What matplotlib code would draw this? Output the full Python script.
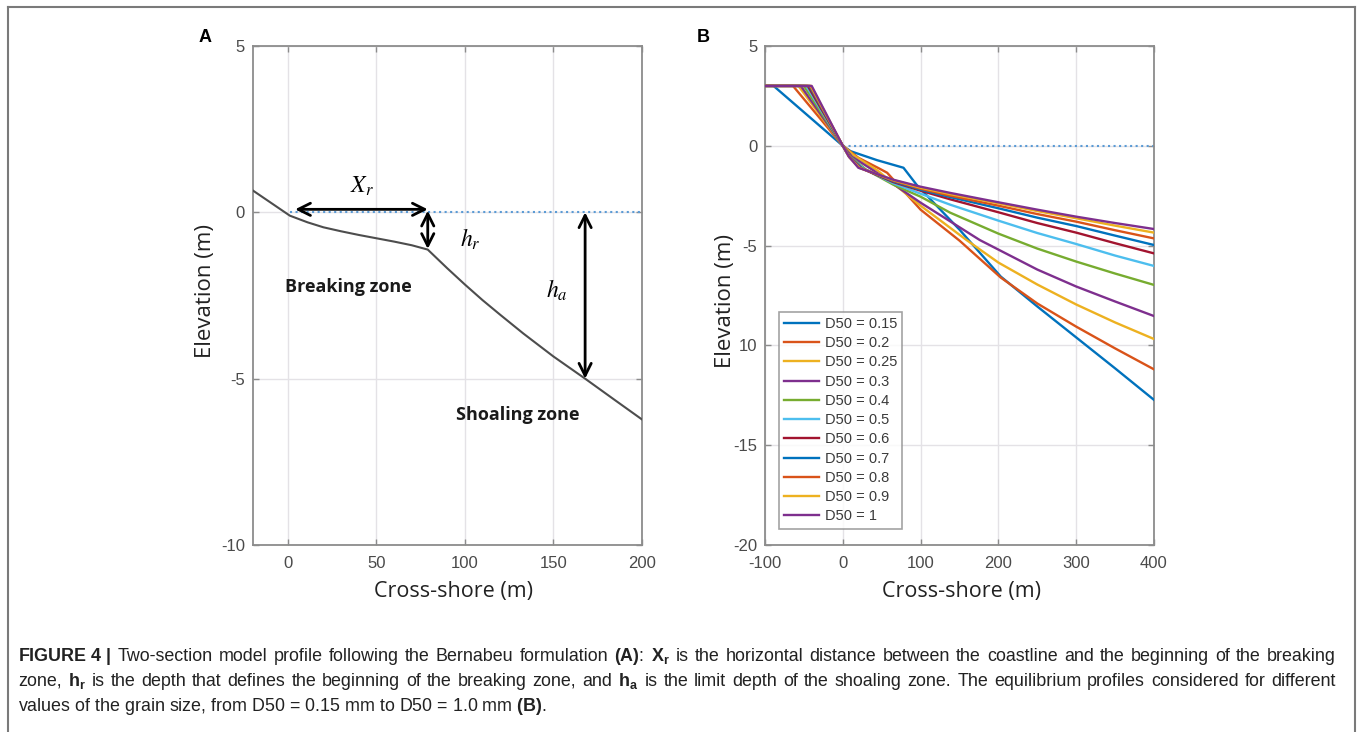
import matplotlib.pyplot as plt
from matplotlib.lines import Line2D

plt.rcParams['axes.unicode_minus'] = False
plt.rcParams['mathtext.fontset'] = 'custom'
plt.rcParams['mathtext.rm'] = 'Liberation Sans'
plt.rcParams['mathtext.bf'] = 'Liberation Sans:bold'
plt.rcParams['mathtext.it'] = 'Liberation Sans:italic'

W, H = 1358, 732

# Panel A: two-section profile (Bernabeu)
a_x = [-20, 1, 5, 11, 20, 30, 40, 50, 60, 70, 79, 90, 100, 110, 120, 133, 150, 168, 185, 200]
a_y = [0.66, -0.1, -0.18, -0.3, -0.45, -0.57, -0.68, -0.78, -0.88, -0.99, -1.12,
       -1.68, -2.17, -2.64, -3.08, -3.64, -4.33, -5.0, -5.65, -6.22]
xr_end = 79      # beginning of breaking zone
hr_depth = -1.1  # depth at breaking point
ha_x = 168       # limit of shoaling zone
ha_depth = -5.0

# Panel B: equilibrium profiles for each D50
d50_labels = ['0.15', '0.2', '0.25', '0.3', '0.4', '0.5', '0.6', '0.7', '0.8', '0.9', '1']
b_x = [
    [-100, -89, 0, 10, 44, 78, 95, 150, 203, 250, 300, 350, 400],
    [-100, -64, 0, 20, 45, 57, 100, 150, 203, 250, 300, 350, 400],
    [-100, -57, 0, 15, 45, 100, 159, 200, 250, 300, 350, 400],
    [-100, -54, 0, 12, 38, 100, 176, 200, 250, 300, 350, 400],
    [-100, -50, 0, 10, 30, 65, 100, 138, 200, 250, 300, 350, 400],
    [-100, -47, 0, 9, 27, 65, 100, 138, 200, 250, 300, 350, 400],
    [-100, -45, 0, 9, 25, 65, 100, 138, 200, 250, 300, 350, 400],
    [-100, -43, 0, 8, 23, 65, 100, 138, 200, 250, 300, 350, 400],
    [-100, -42, 0, 8, 22, 65, 100, 138, 200, 250, 300, 350, 400],
    [-100, -41, 0, 8, 21, 65, 100, 138, 200, 250, 300, 350, 400],
    [-100, -40, 0, 8, 20, 65, 100, 138, 200, 250, 300, 350, 400],
]
b_y = [
    [3, 3, 0, -0.27, -0.72, -1.1, -1.96, -4.2, -6.55, -8.05, -9.6, -11.15, -12.73],
    [3, 3, 0, -0.6, -1.1, -1.35, -3.2, -4.75, -6.6, -7.9, -9.06, -10.15, -11.2],
    [3, 3, 0, -0.5, -1.25, -3.0, -4.72, -5.85, -6.95, -7.95, -8.85, -9.68],
    [3, 3, 0, -0.55, -1.2, -2.85, -4.72, -5.2, -6.2, -7.05, -7.8, -8.53],
    [3, 3, 0, -0.55, -1.2, -1.95, -2.55, -3.35, -4.4, -5.15, -5.8, -6.4, -6.97],
    [3, 3, 0, -0.55, -1.15, -1.88, -2.4, -2.95, -3.75, -4.37, -4.92, -5.5, -6.02],
    [3, 3, 0, -0.55, -1.15, -1.82, -2.25, -2.68, -3.33, -3.87, -4.35, -4.88, -5.39],
    [3, 3, 0, -0.55, -1.1, -1.78, -2.2, -2.57, -3.13, -3.6, -4.02, -4.5, -4.97],
    [3, 3, 0, -0.55, -1.1, -1.75, -2.15, -2.5, -3.0, -3.42, -3.8, -4.23, -4.64],
    [3, 3, 0, -0.55, -1.1, -1.72, -2.1, -2.42, -2.88, -3.27, -3.63, -4.0, -4.35],
    [3, 3, 0, -0.55, -1.1, -1.7, -2.05, -2.36, -2.83, -3.2, -3.55, -3.87, -4.17],
]
matlab_colors = ['#0072BD', '#D95319', '#EDB120', '#7E2F8E', '#77AC30', '#4DBEEE', '#A2142F']

a_xticks = [0, 50, 100, 150, 200]
a_yticks = [-10, -5, 0, 5]
b_xticks = [-100, 0, 100, 200, 300, 400]
b_yticks = [-20, -15, -10, -5, 0, 5]
b_yticklabels = ['-20', '-15', '10', '-5', '0', '5']

tick_col = '#4a4a4a'
grid_col = '#e4e2e6'
spine_col = '#8c8c8c'
label_font = 'Open Sans'


def style_axes(ax):
    ax.grid(True, color=grid_col, lw=1.0)
    ax.set_axisbelow(True)
    for s in ax.spines.values():
        s.set_color(spine_col)
        s.set_linewidth(1.3)
    ax.tick_params(direction='in', length=4, width=1, color=spine_col,
                   labelcolor=tick_col, labelsize=12, top=True, right=True)
    ax.tick_params(axis='x', pad=8)
    ax.tick_params(axis='y', pad=5.5)
    for lab in ax.get_xticklabels() + ax.get_yticklabels():
        lab.set_fontfamily('Liberation Sans')


fig = plt.figure(figsize=(W / 100, H / 100), dpi=100)

# ---- Panel A ----
ax1 = fig.add_axes([252.7 / W, 1 - 545 / H, 389 / W, 499 / H])
ax1.plot([1, 200], [0, 0], ls=':', color='#5b9bd5', lw=1.5, zorder=2)
ax1.plot(a_x, a_y, color='#4d4d4d', lw=1.5, zorder=3)
ax1.set_xlim(-20, 200)
ax1.set_ylim(-10, 5)
ax1.set_xticks(a_xticks)
ax1.set_yticks(a_yticks)
style_axes(ax1)

arrow_kw = dict(arrowstyle='<->', color='black', lw=2, mutation_scale=22, shrinkA=0, shrinkB=0)
ax1.annotate('', xy=(4, 0.09), xytext=(xr_end, 0.09), arrowprops=arrow_kw)
ax1.annotate('', xy=(xr_end, 0.05), xytext=(xr_end, hr_depth), arrowprops=arrow_kw)
ax1.annotate('', xy=(ha_x, 0.0), xytext=(ha_x, ha_depth), arrowprops=arrow_kw)
ax1.text(42, 0.8, r'$X_r$', fontsize=17, ha='center', va='center', math_fontfamily='stix')
ax1.text(103, -0.8, r'$h_r$', fontsize=17, ha='center', va='center', math_fontfamily='stix')
ax1.text(152, -2.35, r'$h_a$', fontsize=17, ha='center', va='center', math_fontfamily='stix')
ax1.text(34, -2.24, 'Breaking zone', fontsize=13, fontweight='bold', family=label_font,
         ha='center', va='center', color='#1a1a1a')
ax1.text(130, -6.1, 'Shoaling zone', fontsize=13, fontweight='bold', family=label_font,
         ha='center', va='center', color='#1a1a1a')

# ---- Panel B ----
ax2 = fig.add_axes([765 / W, 1 - 545 / H, 389 / W, 499 / H])
ax2.plot([0, 400], [0, 0], ls=':', color='#5b9bd5', lw=1.5, zorder=2)
for i, lab in enumerate(d50_labels):
    ax2.plot(b_x[i], b_y[i], color=matlab_colors[i % len(matlab_colors)], lw=1.7,
             label='D50 = ' + lab, zorder=3)
ax2.set_xlim(-100, 400)
ax2.set_ylim(-20, 5)
ax2.set_xticks(b_xticks)
ax2.set_yticks(b_yticks)
ax2.set_yticklabels(b_yticklabels)
style_axes(ax2)
leg = ax2.legend(loc='lower left', bbox_to_anchor=(0.035, 0.033),
                 prop={'family': 'Liberation Sans', 'size': 10.5}, frameon=True, fancybox=False,
                 edgecolor='#8c8c8c', labelspacing=0.36, handlelength=2.4, handletextpad=0.4,
                 borderpad=0.35, borderaxespad=0)
leg.get_frame().set_linewidth(1.2)
for t in leg.get_texts():
    t.set_color('#3a3a3a')

# axis labels placed like the reference
for xc in (453.5, 961):
    fig.text(xc / W, 1 - 591 / H, 'Cross-shore (m)', fontsize=15.5, family=label_font,
             color='#222222', ha='center', va='center')
for xc, yc in ((205, 291), (726, 301)):
    fig.text(xc / W, 1 - yc / H, 'Elevation (m)', fontsize=16, family=label_font,
             color='#222222', ha='center', va='center', rotation=90)

# panel letters
fig.text(205 / W, 1 - 38 / H, 'A', fontsize=13, fontweight='bold', family='Liberation Sans',
         ha='center', va='center')
fig.text(703 / W, 1 - 38 / H, 'B', fontsize=13, fontweight='bold', family='Liberation Sans',
         ha='center', va='center')

# caption: first two lines justified like the journal layout, last line plain
cap_lines = [
    r'$\mathbf{FIGURE\ 4\ |}$ Two-section model profile following the Bernabeu formulation '
    r'$\mathbf{(A)}$: $\mathbf{X}_\mathbf{r}$ is the horizontal distance between the coastline '
    r'and the beginning of the breaking',
    r'zone, $\mathbf{h}_\mathbf{r}$ is the depth that defines the beginning of the breaking zone, '
    r'and $\mathbf{h}_\mathbf{a}$ is the limit depth of the shoaling zone. The equilibrium profiles '
    r'considered for different',
]
cap_last = r'values of the grain size, from D50 = 0.15 mm to D50 = 1.0 mm $\mathbf{(B)}$.'
cap_base = [661, 686, 711]
cap_x0, cap_x1 = 18, 1336
cap_size = 12.9

fig.canvas.draw()
renderer = fig.canvas.get_renderer()


def split_words(line):
    # split on spaces that are outside $...$
    words, cur, in_math = [], '', False
    for ch in line:
        if ch == '$':
            in_math = not in_math
        if ch == ' ' and not in_math:
            if cur:
                words.append(cur)
            cur = ''
        else:
            cur += ch
    if cur:
        words.append(cur)
    return words


for line, y in zip(cap_lines, cap_base[:2]):
    words = split_words(line)
    texts = [fig.text(0, 1 - y / H, w, fontsize=cap_size, family='Liberation Sans',
                      math_fontfamily='custom', ha='left', va='baseline', color='#222222')
             for w in words]
    widths = [t.get_window_extent(renderer).width for t in texts]
    gap = (cap_x1 - cap_x0 - sum(widths)) / (len(words) - 1)
    x = cap_x0
    for t, w in zip(texts, widths):
        t.set_x(x / W)
        x += w + gap

fig.text(cap_x0 / W, 1 - cap_base[2] / H, cap_last, fontsize=cap_size, family='Liberation Sans',
         math_fontfamily='custom', ha='left', va='baseline', color='#222222')

# outer frame (left, top, right)
frame_col = '#7a7a7a'
fig.add_artist(Line2D([7.5 / W, 7.5 / W], [0, 1 - 6.5 / H], transform=fig.transFigure,
                      color=frame_col, lw=1.5))
fig.add_artist(Line2D([7.5 / W, 1354.5 / W], [1 - 6.5 / H, 1 - 6.5 / H],
                      transform=fig.transFigure, color=frame_col, lw=1.5))
fig.add_artist(Line2D([1354.5 / W, 1354.5 / W], [0, 1 - 6.5 / H], transform=fig.transFigure,
                      color=frame_col, lw=1.5))

fig.savefig('out.png', dpi=100)
